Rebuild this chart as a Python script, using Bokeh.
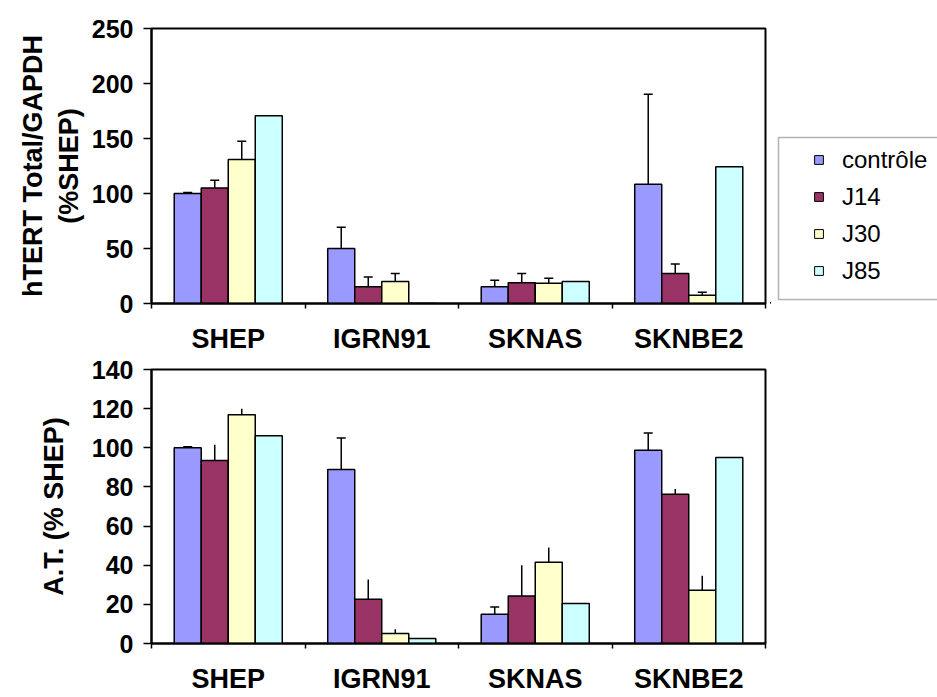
from bokeh.plotting import figure
from bokeh.models import (Range1d, FixedTicker, ColumnDataSource, Whisker, TeeHead,
                          Legend, LegendItem, BoxAnnotation)
from bokeh.layouts import column, row
from bokeh.embed import file_html
from bokeh.resources import INLINE

# ---------------- data ----------------
cell_lines = ["SHEP", "IGRN91", "SKNAS", "SKNBE2"]
series = ["contrôle", "J14", "J30", "J85"]
colors = ["#9999FF", "#993366", "#FFFFCC", "#CCFFFF"]

# hTERT Total / GAPDH (% SHEP)
htert_controle = [100, 50, 15.2, 108.5]
htert_J14 = [105, 15.2, 18.8, 27.3]
htert_J30 = [131, 20, 18.5, 7.6]
htert_J85 = [170.6, 0, 20, 124.3]
htert_controle_err = [1, 19.4, 6, 81.8]
htert_J14_err = [7, 8.8, 8.5, 8.5]
htert_J30_err = [16.5, 7.3, 4.5, 2.7]
htert_J85_err = [0, 0, 0, 0]

# A.T. (% SHEP)
at_controle = [100, 88.9, 14.9, 98.7]
at_J14 = [93.5, 22.6, 24.3, 76.3]
at_J30 = [116.9, 5.1, 41.5, 27.2]
at_J85 = [106.1, 2.5, 20.4, 95.1]
at_controle_err = [0.5, 16.1, 3.7, 8.9]
at_J14_err = [8.1, 10.1, 15.7, 2.7]
at_J30_err = [3.1, 2.2, 7.6, 7.4]
at_J85_err = [0, 0, 0, 0]

top_ticks = [0, 50, 100, 150, 200, 250]
bottom_ticks = [0, 20, 40, 60, 80, 100, 120, 140]
top_title = "hTERT Total/GAPDH\n(%SHEP)"
bottom_title = "A.T. (% SHEP)"

FONT = "Liberation Sans"
BAR_W = 0.176


def panel(vals, errs, capped, ticks, title, title_standoff, height, mb_top, mb_bottom, standoff):
    p = figure(width=770, height=height, x_range=Range1d(0, len(cell_lines)),
               y_range=Range1d(ticks[0], ticks[-1]), output_backend="svg",
               toolbar_location=None, min_border_left=151, min_border_right=5,
               min_border_top=mb_top, min_border_bottom=mb_bottom)
    p.grid.visible = False
    p.outline_line_color = "black"
    p.outline_line_width = 2
    p.background_fill_color = "white"
    p.border_fill_color = "white"
    centers = [i + 0.5 for i in range(len(cell_lines))]
    for j, color in enumerate(colors):
        xs = [c + (j - 1.5) * BAR_W for c in centers]
        src = ColumnDataSource(dict(x=xs, top=vals[j]))
        p.vbar(x="x", top="top", width=BAR_W, source=src, fill_color=color,
               line_color="black", line_width=1.5)
        keep = [k for k, e in enumerate(errs[j]) if e > 0 and vals[j][k] > 0]
        if keep:
            wsrc = ColumnDataSource(dict(
                base=[xs[k] for k in keep],
                lower=[vals[j][k] for k in keep],
                upper=[vals[j][k] + errs[j][k] for k in keep]))
            w = Whisker(base="base", lower="lower", upper="upper", source=wsrc,
                        dimension="height", line_color="black", line_width=1.5,
                        lower_head=None,
                        upper_head=TeeHead(size=9, line_width=1.5, line_color="black") if capped[j] else None)
            p.add_layout(w)

    xa = p.xaxis[0]
    xa.ticker = FixedTicker(ticks=centers, minor_ticks=[float(i) for i in range(len(cell_lines) + 1)])
    xa.major_label_overrides = {c: name for c, name in zip(centers, cell_lines)}
    xa.major_tick_out = 0
    xa.major_tick_in = 0
    xa.minor_tick_out = 5
    xa.minor_tick_in = 0
    xa.minor_tick_line_width = 1.5
    xa.minor_tick_line_color = "black"
    xa.axis_line_width = 2
    xa.axis_line_color = "black"
    xa.major_label_standoff = standoff
    xa.major_label_text_font = FONT
    xa.major_label_text_font_style = "bold"
    xa.major_label_text_font_size = "27px"
    xa.major_label_text_color = "black"

    ya = p.yaxis[0]
    ya.ticker = FixedTicker(ticks=ticks, minor_ticks=[])
    ya.major_tick_out = 8
    ya.major_tick_in = 0
    ya.major_tick_line_width = 1.5
    ya.major_tick_line_color = "black"
    ya.axis_line_width = 2
    ya.axis_line_color = "black"
    ya.major_label_standoff = 10
    ya.major_label_text_font = FONT
    ya.major_label_text_font_style = "bold"
    ya.major_label_text_font_size = "25px"
    ya.major_label_text_color = "black"
    ya.axis_label = title
    ya.axis_label_standoff = title_standoff
    ya.axis_label_text_font = FONT
    ya.axis_label_text_font_style = "bold"
    ya.axis_label_text_font_size = "27px"
    ya.axis_label_text_color = "black"
    return p


top = panel([htert_controle, htert_J14, htert_J30, htert_J85],
            [htert_controle_err, htert_J14_err, htert_J30_err, htert_J85_err],
            [True, True, True, True], top_ticks, top_title, 5, 356, 28, 53, 15)
bottom = panel([at_controle, at_J14, at_J30, at_J85],
               [at_controle_err, at_J14_err, at_J30_err, at_J85_err],
               [True, False, False, False], bottom_ticks, bottom_title, 20, 341, 13, 54, 15)

# legend panel (frame aligned with the top chart, 1 data unit = 1 px)
lg = figure(width=167, height=356, x_range=Range1d(0, 167), y_range=Range1d(0, 275),
            output_backend="svg", toolbar_location=None, x_axis_location=None,
            y_axis_location=None, min_border_left=0, min_border_right=0,
            min_border_top=28, min_border_bottom=53)
lg.grid.visible = False
lg.outline_line_color = None
lg.background_fill_color = "white"
lg.border_fill_color = "white"
lg.add_layout(BoxAnnotation(left=8, right=400, bottom=4, top=166, fill_alpha=0,
                            line_color="black", line_width=1.5))
items = []
for name, color in zip(series, colors):
    r = lg.vbar(x=[-100], top=[1], width=1, fill_color=color, line_color="black", line_width=1)
    items.append(LegendItem(label=name, renderers=[r]))
legend = Legend(items=items, location=(43, 18), border_line_color=None,
                background_fill_alpha=0, padding=0, margin=0, spacing=8,
                glyph_width=11, glyph_height=11, label_height=29, label_standoff=18,
                label_text_font=FONT, label_text_font_size="24px",
                label_text_baseline="middle", label_text_color="black")
lg.add_layout(legend)

layout = column(row(top, lg), bottom)
open("out.html", "w").write(file_html(layout, INLINE))
